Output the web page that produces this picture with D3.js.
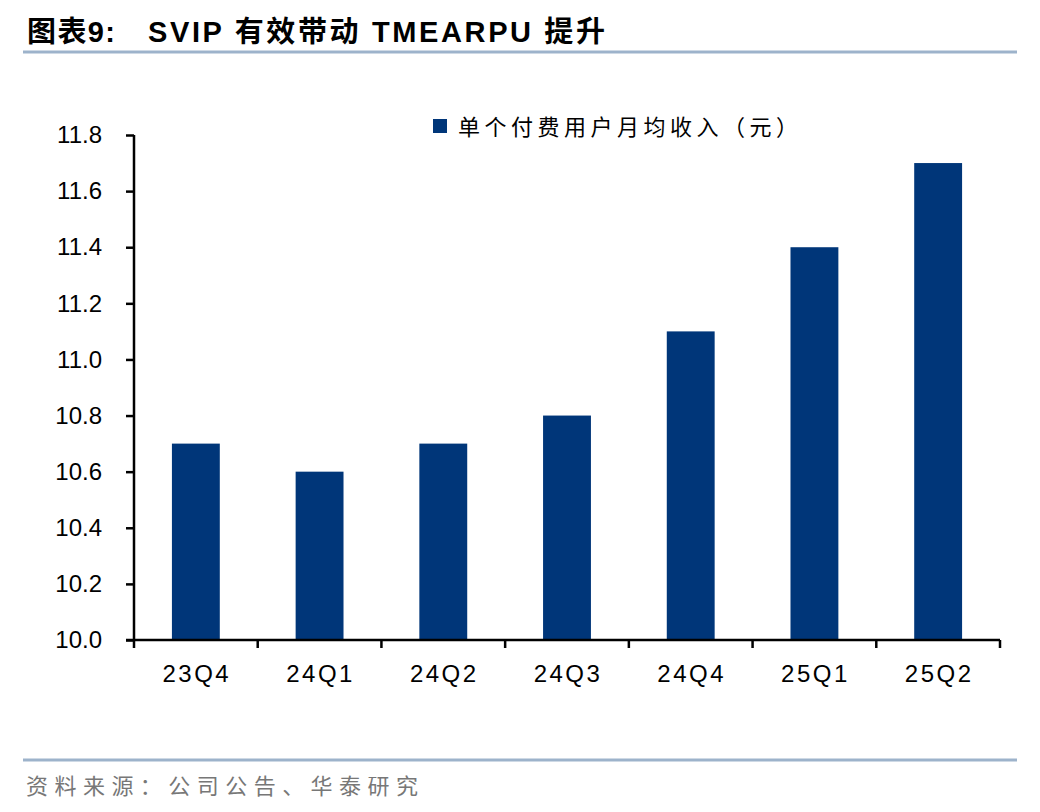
<!DOCTYPE html>
<html><head><meta charset="utf-8">
<script src="https://cdn.jsdelivr.net/npm/d3@7/dist/d3.min.js"></script>
<style>body{margin:0;background:#fff;}svg{display:block;}</style>
</head><body>
<script>
const categories = ["23Q4","24Q1","24Q2","24Q3","24Q4","25Q1","25Q2"];
const arpu = [10.7, 10.6, 10.7, 10.8, 11.1, 11.4, 11.7];
const yTicks = [10.0,10.2,10.4,10.6,10.8,11.0,11.2,11.4,11.6,11.8];
const seriesName = "单个付费用户月均收入（元）";
const titleLabel = "图表9:";
const titleText = "SVIP 有效带动 TMEARPU 提升";
const sourceText = "资料来源：公司公告、华泰研究";

(function(){
const W = 1040, H = 812;
const svg = d3.select("body").append("svg").attr("width", W).attr("height", H);
const pl = 134, pr = 1000, pt = 135, pb = 640;
const sans = "'Liberation Sans',Arial,sans-serif";
const cjk = "'Noto Sans CJK SC',sans-serif";

// title
const tt = svg.append("text").attr("y", 42)
  .attr("font-family", "'Liberation Sans','Noto Sans CJK SC',sans-serif")
  .attr("font-weight", "bold").attr("font-size", 29).attr("fill", "#000");
tt.append("tspan").attr("x", 27).attr("textLength", 88).attr("lengthAdjust", "spacing").text(titleLabel);
tt.append("tspan").attr("x", 148).attr("textLength", 457).attr("lengthAdjust", "spacing").text(titleText);
svg.append("line").attr("x1", 23).attr("x2", 1017).attr("y1", 52).attr("y2", 52)
  .attr("stroke", "#9db3cb").attr("stroke-width", 3);

const x = d3.scaleBand().domain(categories).range([pl, pr]).paddingInner(0.613).paddingOuter(0.3065);
const y = d3.scaleLinear().domain([10.0, 11.8]).range([pb, pt]);

svg.append("g").selectAll("rect").data(arpu).join("rect")
  .attr("x", (d,i) => x(categories[i])).attr("width", x.bandwidth())
  .attr("y", d => y(d)).attr("height", d => pb - y(d))
  .attr("fill", "#003679");

// y axis
const yAxis = svg.append("g").attr("transform", `translate(${pl},0)`)
  .call(d3.axisLeft(y).tickValues(yTicks).tickFormat(d3.format(".1f")).tickSize(8).tickPadding(24));
yAxis.select(".domain").attr("stroke", "#000").attr("stroke-width", 2.5).attr("d", `M0,${pt}V${pb}`);
yAxis.selectAll(".tick line").attr("stroke", "#000").attr("stroke-width", 2.5);
yAxis.selectAll(".tick text").attr("font-family", sans).attr("font-size", 24).attr("fill", "#000");

// x axis
const xb = d3.scaleLinear().domain([0, categories.length]).range([pl, pr]);
const xAxisG = svg.append("g").attr("transform", `translate(0,${pb})`);
xAxisG.append("line").attr("x1", pl - 8).attr("x2", pr).attr("stroke", "#000").attr("stroke-width", 2.5);
xAxisG.selectAll("line.tk").data(d3.range(categories.length + 1)).join("line").attr("class","tk")
  .attr("x1", d => xb(d)).attr("x2", d => xb(d)).attr("y1", 0).attr("y2", 8)
  .attr("stroke", "#000").attr("stroke-width", 2.5);
xAxisG.selectAll("text").data(categories).join("text")
  .attr("x", d => x(d) + x.bandwidth()/2 + 1).attr("y", 42)
  .attr("text-anchor", "middle")
  .attr("font-family", sans).attr("font-size", 24).attr("fill", "#000")
  .attr("letter-spacing", 2.5)
  .text(d => d);

// legend
svg.append("rect").attr("x", 433).attr("y", 119).attr("width", 14).attr("height", 14).attr("fill", "#003679");
svg.append("text").attr("x", 458).attr("y", 135)
  .attr("font-family", cjk).attr("font-size", 22).attr("fill", "#000")
  .attr("textLength", 340).attr("lengthAdjust", "spacing")
  .text(seriesName);

// footer
svg.append("line").attr("x1", 23).attr("x2", 1017).attr("y1", 760).attr("y2", 760)
  .attr("stroke", "#9db3cb").attr("stroke-width", 3);
svg.append("text").attr("x", 26).attr("y", 794)
  .attr("font-family", cjk).attr("font-size", 22).attr("fill", "#777")
  .attr("textLength", 392).attr("lengthAdjust", "spacing")
  .text(sourceText);
})();
</script>
</body></html>
